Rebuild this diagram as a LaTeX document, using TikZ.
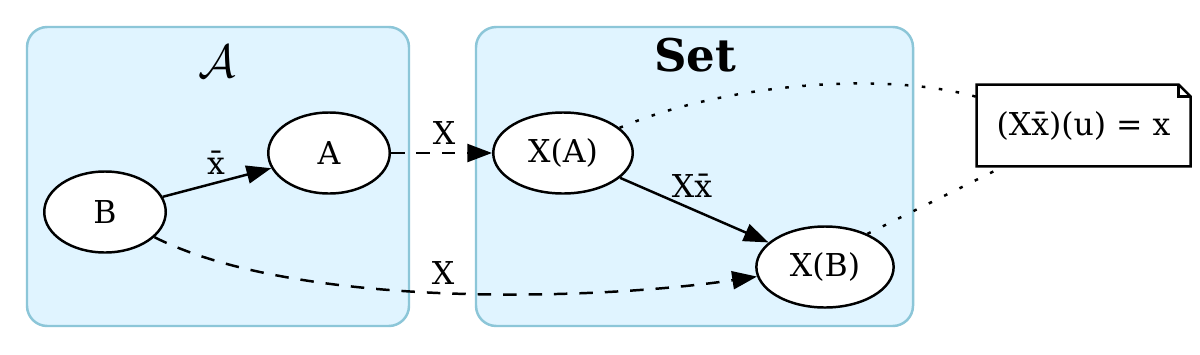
\documentclass[tikz,border=0pt]{standalone}
\usepackage{fontspec}
\setmainfont{DejaVu Serif}
\usetikzlibrary{arrows.meta,shapes.geometric}
\definecolor{clfill}{HTML}{E0F4FF}
\definecolor{cldraw}{HTML}{8CC6D8}
\tikzset{
  gvnode/.style={ellipse,draw,line width=1.1pt,fill=white,inner sep=0pt,minimum height=36pt,font=\fontsize{14}{17}\selectfont},
  cluster/.style={draw=cldraw,fill=clfill,line width=1.1pt,rounded corners=9pt},
  gvarrow/.style={line width=1.1pt,-{Triangle[length=11pt,width=8pt]}},
  gvdashed/.style={dash pattern=on 6pt off 5.3pt},
  gvdotted/.style={line width=1.1pt,dash pattern=on 1.6pt off 6pt},
  elabel/.style={inner sep=0pt,font=\fontsize{14}{17}\selectfont},
  notebox/.style={inner sep=0pt,minimum width=94.7pt,minimum height=36pt,font=\fontsize{14}{17}\selectfont}
}
\begin{document}
\begin{tikzpicture}[x=0.4444pt,y=-0.4444pt]
\useasboundingbox (0,0) rectangle (1200,354);
\fill[white] (0,0) rectangle (1200,354);
% clusters
\draw[cluster] (27,27) rectangle (409,326);
\draw[cluster] (476,27) rectangle (913,326);
\node[inner sep=0pt,font=\fontsize{20}{24}\selectfont] (tA) at (217,62) {$\mathcal{A}$};
\node[inner sep=0pt,font=\fontsize{20}{24}\selectfont\bfseries] (tS) at (695,55) {Set};
% nodes
\node[gvnode,minimum width=54pt] (B) at (105,212) {B};
\node[gvnode,minimum width=54pt] (A) at (329,153) {A};
\node[gvnode,minimum width=62pt] (XA) at (563,153) {X(A)};
\node[gvnode,minimum width=61pt] (XB) at (825,267) {X(B)};
% note
\node[notebox] (note) at (1083.5,125.5) {(Xx̄)(u) = x};
\draw[line width=1.1pt,fill=white] (note.north west) -- ([xshift=-5.3pt]note.north east) -- ([yshift=-5.3pt]note.north east) -- (note.south east) -- (note.south west) -- cycle;
\draw[line width=1.1pt] ([xshift=-5.3pt]note.north east) -- ([xshift=-5.3pt,yshift=-5.3pt]note.north east) -- ([yshift=-5.3pt]note.north east);
\node[notebox] at (note.center) {(Xx̄)(u) = x};
% edges
\draw[gvarrow] (B) -- (A);
\node[elabel] (lx) at (216,163) {x̄};
\draw[gvarrow,gvdashed] (A) -- (XA);
\node[elabel] (lX1) at (444,133) {X};
\draw[gvarrow,gvdashed] (B.-27) .. controls (300,310) and (600,300) .. (XB.188);
\node[elabel] (lX2) at (443,273) {X};
\draw[gvarrow] (XA) -- (XB);
\node[elabel] (lXx) at (692,186) {Xx̄};
\draw[gvdotted] (XA.24) .. controls (720,85) and (880,70) .. (note.165);
\draw[gvdotted] (XB.38) -- ([xshift=12pt]note.south west);
\end{tikzpicture}
\end{document}
